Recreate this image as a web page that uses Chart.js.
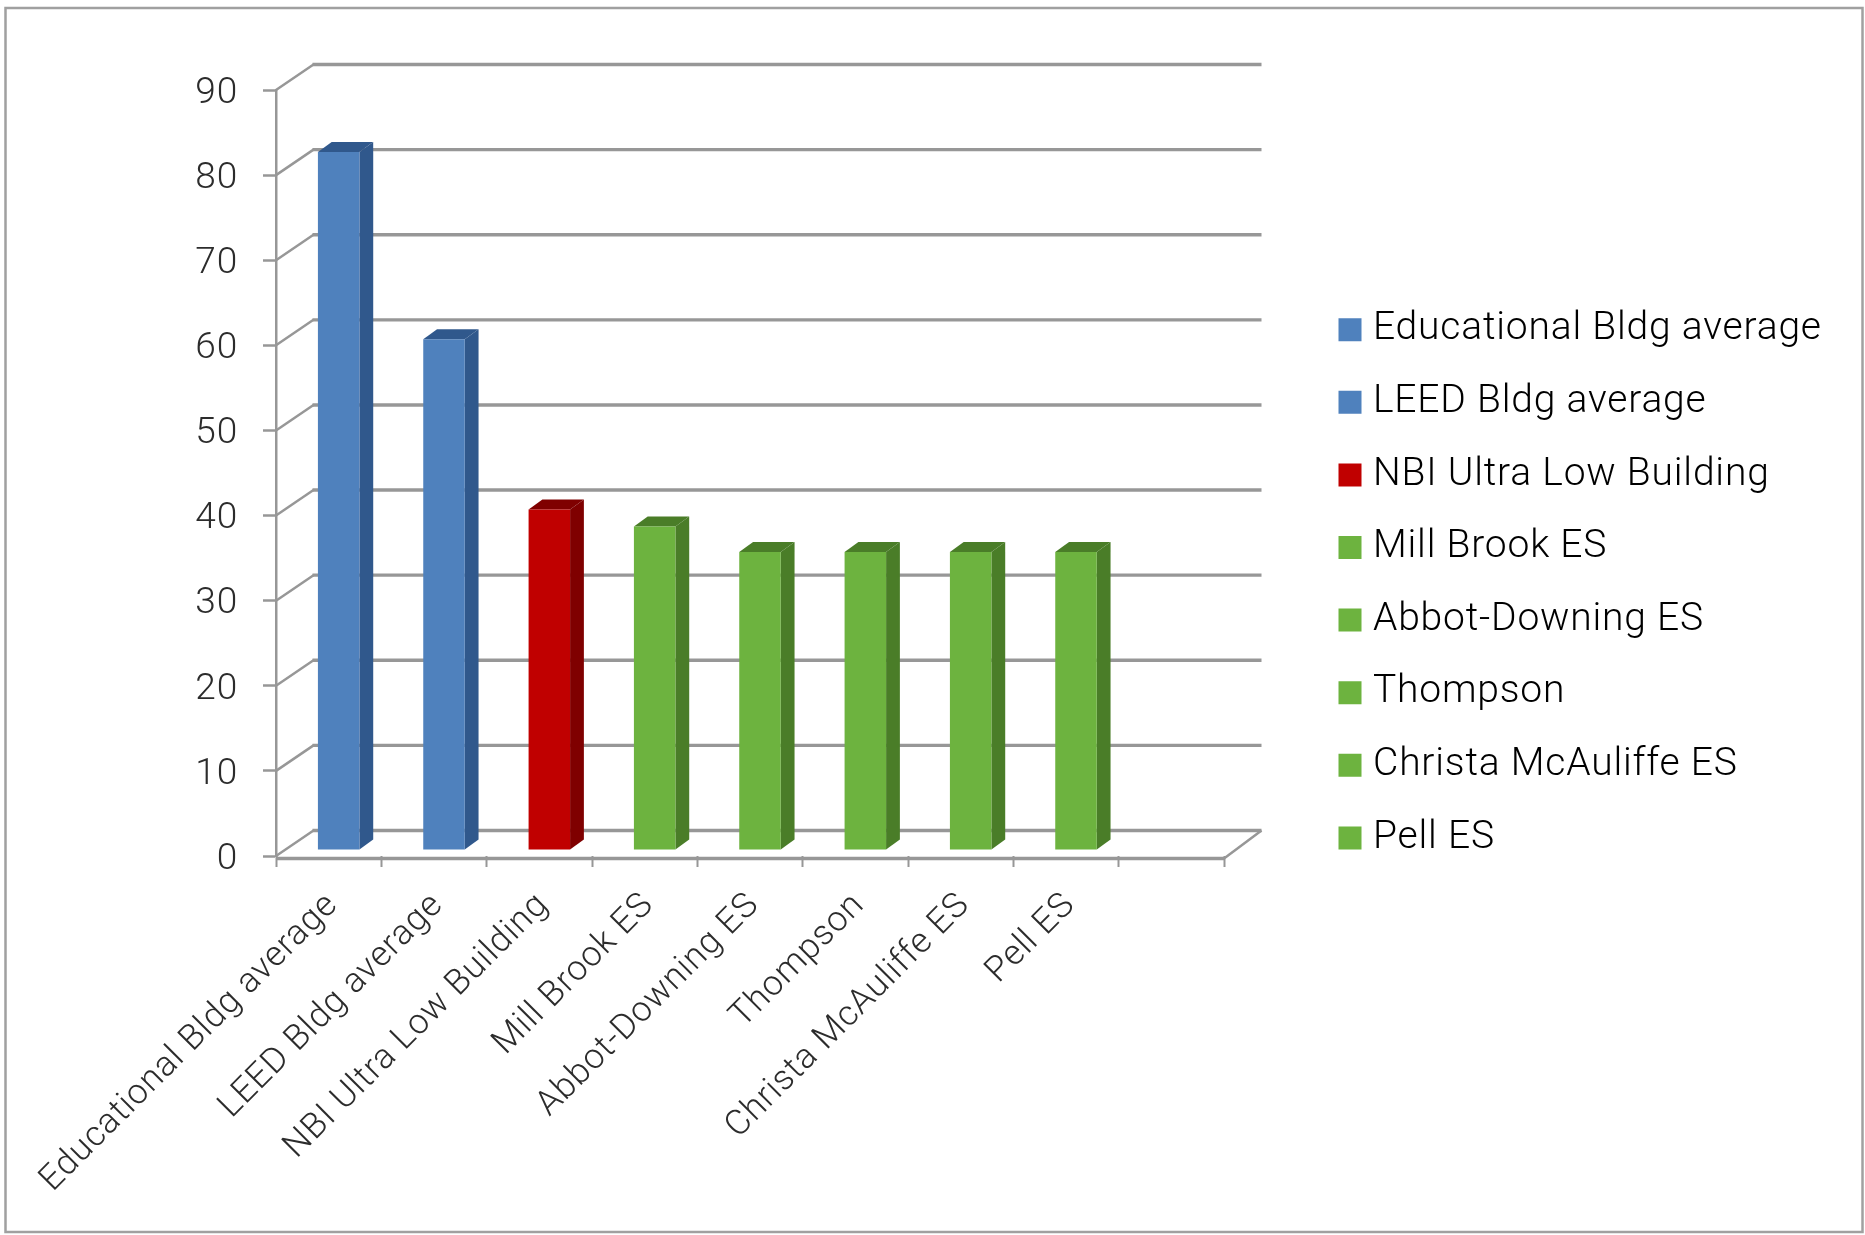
<!DOCTYPE html>
<html><head><meta charset="utf-8">
<style>html,body{margin:0;padding:0;background:#fff}canvas{display:block}</style>
<script src="https://cdn.jsdelivr.net/npm/chart.js@4"></script>
</head><body><canvas id="c" width="1865" height="1235"></canvas>
<script>
const categories = ["Educational Bldg average","LEED Bldg average","NBI Ultra Low Building","Mill Brook ES","Abbot-Downing ES","Thompson","Christa McAuliffe ES","Pell ES",""];
const values = [82,60,40,38,35,35,35,35,null];
const faceColors = ["#4f81bd","#4f81bd","#c00000","#6db33f","#6db33f","#6db33f","#6db33f","#6db33f","#6db33f"];
const sideColors = ["#30588c","#30588c","#7f0000","#4a7d28","#4a7d28","#4a7d28","#4a7d28","#4a7d28","#4a7d28"];
const FONT = "Roboto";
const TEXT = "#2c2c2c", GRID = "#979797";
const depth = {dx:37.5, dy:-25.5};    // wall depth
const barShift = {dx:10, dy:-6};      // bars stand inside the floor
const barDepth = {dx:13.8, dy:-10};

const plugin3d = {
  id:"plugin3d",
  beforeUpdate(chart){ chart.ctx.letterSpacing = "0.8px"; },
  beforeLayout(chart){
    const l = chart.legend;
    if(!l._fitted){ l._fitted = true; const f = l.fit.bind(l); l.fit = function(){ f(); this.width = 641; }; }
  },
  afterLayout(chart){ chart.legend.left = 1312.9; chart.legend.top = 276.6; },
  beforeDraw(chart){
    const c = chart.ctx;
    c.letterSpacing = "0.8px";
    c.save(); c.strokeStyle = "#a0a0a0"; c.lineWidth = 2.5; c.strokeRect(5.5,8,1857,1224); c.restore();
  },
  beforeDatasetsDraw(chart){
    const c = chart.ctx, y = chart.scales.y, a = chart.chartArea;
    c.save();
    c.strokeStyle = GRID; c.lineCap = "butt";
    y.ticks.forEach(t=>{
      const py = y.getPixelForValue(t.value);
      c.lineWidth = 2.5;
      c.beginPath(); c.moveTo(a.left,py); c.lineTo(a.left+depth.dx,py+depth.dy); c.stroke();
      c.lineWidth = 3.4;
      c.beginPath(); c.moveTo(a.left+depth.dx-1,py+depth.dy); c.lineTo(a.right+depth.dx,py+depth.dy); c.stroke();
    });
    const fy = a.bottom+2.5;
    c.lineWidth = 3.4;
    c.beginPath(); c.moveTo(a.left,fy); c.lineTo(a.right,fy); c.stroke();
    c.lineWidth = 2.5;
    c.beginPath(); c.moveTo(a.right,fy); c.lineTo(a.right+depth.dx,a.bottom+depth.dy); c.stroke();
    // side and top faces of the bars
    chart.getDatasetMeta(0).data.forEach((b,i)=>{
      if(values[i]==null) return;
      const l = b.x-b.width/2+barShift.dx, r = b.x+b.width/2+barShift.dx;
      const t = b.y+barShift.dy, s = b.base+barShift.dy;
      c.fillStyle = sideColors[i];
      c.beginPath(); c.moveTo(r,t); c.lineTo(r+barDepth.dx,t+barDepth.dy); c.lineTo(r+barDepth.dx,s+barDepth.dy); c.lineTo(r,s); c.closePath(); c.fill();
      c.beginPath(); c.moveTo(l,t); c.lineTo(l+barDepth.dx,t+barDepth.dy); c.lineTo(r+barDepth.dx,t+barDepth.dy); c.lineTo(r,t); c.closePath(); c.fill();
    });
    c.restore();
    c.save(); c.translate(barShift.dx,barShift.dy);
  },
  afterDatasetsDraw(chart){ chart.ctx.restore(); }
};

new Chart(document.getElementById("c"),{
  type:"bar",
  data:{labels:categories,datasets:[{data:values,backgroundColor:faceColors,borderWidth:0,barPercentage:0.394,categoryPercentage:1,clip:false}]},
  plugins:[plugin3d],
  options:{
    responsive:false,animation:false,devicePixelRatio:1,
    layout:{padding:{top:90,left:0,right:0,bottom:0}},
    scales:{
      x:{
        type:"category",offset:true,
        afterFit(s){s.height=379;s.paddingLeft=0;s.paddingRight=0;},
        border:{display:false},
        grid:{display:true,offset:true,drawOnChartArea:false,drawTicks:true,tickLength:11,tickWidth:2,tickColor:GRID},
        ticks:{autoSkip:false,minRotation:45,maxRotation:45,padding:18,labelOffset:4,color:TEXT,font:{family:FONT,size:35,weight:"300"}}
      },
      y:{
        min:0,max:90,
        afterFit(s){s.width=276;s.paddingTop=0;s.paddingBottom=0;},
        border:{display:true,color:GRID,width:2.5},
        grid:{drawOnChartArea:false,drawTicks:true,tickLength:13,tickWidth:2.5,tickColor:GRID},
        ticks:{stepSize:10,padding:25,labelOffset:3.5,color:TEXT,font:{family:FONT,size:37,weight:"300"}}
      }
    },
    plugins:{
      tooltip:{enabled:false},
      legend:{
        position:"right",align:"start",
        labels:{
          boxWidth:7,boxHeight:7,padding:33.6,color:TEXT,font:{family:FONT,size:39,weight:"300"},
          generateLabels(){
            return categories.filter(n=>n).map((n,i)=>({text:n,fillStyle:faceColors[i],strokeStyle:faceColors[i],lineWidth:16,hidden:false,index:i,datasetIndex:0}));
          }
        }
      }
    }
  }
});
</script></body></html>
